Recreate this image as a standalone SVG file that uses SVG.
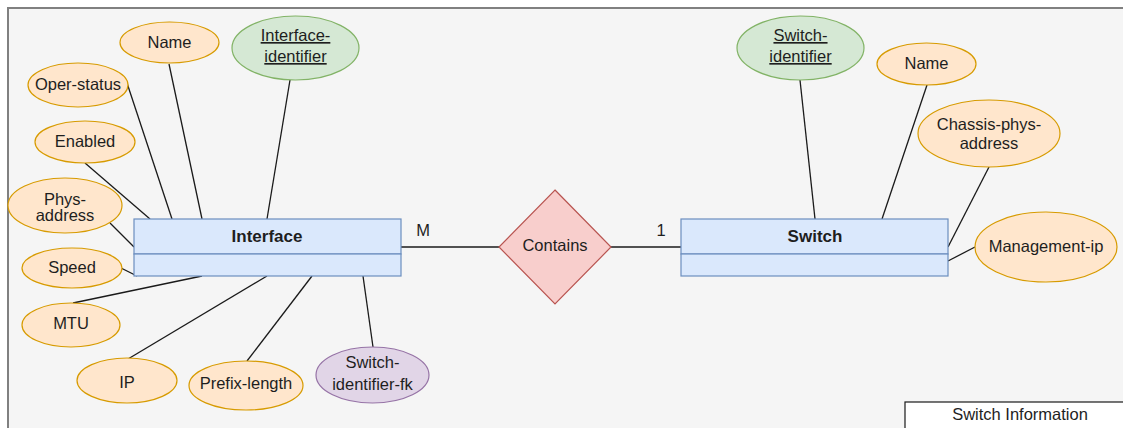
<svg xmlns="http://www.w3.org/2000/svg" width="1123" height="428" viewBox="0 0 1123 428">
  <style>
    text { font-family: "Liberation Sans", Arial, sans-serif; font-size: 16.5px; fill: #1e1e1e; text-anchor: middle; }
    .attr { fill: #ffe6cc; stroke: #d79b00; stroke-width: 1.2; }
    .key { fill: #d5e8d4; stroke: #82b366; stroke-width: 1.2; }
    .fk { fill: #e1d5e7; stroke: #9673a6; stroke-width: 1.2; }
    .entity { fill: #dae8fc; stroke: #6c8ebf; stroke-width: 1.2; }
    .rel { fill: #f8cecc; stroke: #b85450; stroke-width: 1.2; }
    .u { text-decoration: underline; }
    .title { font-weight: bold; font-size: 17px; }
    #connectors line { stroke: #1a1a1a; stroke-width: 1.3; }
  </style>

  <!-- page frame -->
  <rect x="0" y="0" width="1123" height="428" fill="#ffffff"/>
  <rect x="8" y="8" width="1120" height="425" fill="#f5f5f5" stroke="#808080" stroke-width="2"/>

  <!-- connectors -->
  <g id="connectors">
    <line x1="169" y1="64" x2="202" y2="219"/>
    <line x1="290" y1="80" x2="267" y2="219"/>
    <line x1="127" y1="83" x2="172" y2="219"/>
    <line x1="85" y1="163" x2="150" y2="219"/>
    <line x1="110" y1="223" x2="134" y2="247"/>
    <line x1="121" y1="268" x2="137" y2="276"/>
    <line x1="73" y1="303" x2="202" y2="276"/>
    <line x1="128" y1="359" x2="267" y2="276"/>
    <line x1="247" y1="361" x2="312" y2="276"/>
    <line x1="373" y1="347" x2="363" y2="276"/>
    <line x1="401" y1="247" x2="499" y2="247"/>
    <line x1="611" y1="247" x2="681" y2="247"/>
    <line x1="800" y1="80" x2="815" y2="219"/>
    <line x1="927" y1="85" x2="882" y2="219"/>
    <line x1="989" y1="167" x2="948" y2="247"/>
    <line x1="975" y1="247" x2="948" y2="261"/>
  </g>

  <!-- Interface entity -->
  <g id="interface">
    <rect class="entity" x="134" y="219" width="267" height="35"/>
    <rect class="entity" x="134" y="254" width="267" height="22"/>
    <text class="title" x="267" y="242">Interface</text>
  </g>

  <!-- Switch entity -->
  <g id="switch">
    <rect class="entity" x="681" y="219" width="267" height="35"/>
    <rect class="entity" x="681" y="254" width="267" height="22"/>
    <text class="title" x="815" y="242">Switch</text>
  </g>

  <!-- relationship -->
  <g id="contains">
    <polygon class="rel" points="555,190 611,247 555,304 499,247"/>
    <text x="555" y="251">Contains</text>
  </g>
  <g id="card-m"><text x="423" y="236">M</text></g>
  <g id="card-1"><text x="661" y="236">1</text></g>

  <!-- Interface attributes -->
  <g id="if-name">
    <ellipse class="attr" cx="169.5" cy="42.5" rx="49.5" ry="20.5"/>
    <text x="169.5" y="48">Name</text>
  </g>
  <g id="if-identifier">
    <ellipse class="key" cx="295.5" cy="48" rx="63.5" ry="32"/>
    <text class="u" x="295.5" y="41">Interface-</text>
    <text class="u" x="295.5" y="62">identifier</text>
  </g>
  <g id="if-oper-status">
    <ellipse class="attr" cx="78" cy="85" rx="50" ry="22"/>
    <text x="78" y="90">Oper-status</text>
  </g>
  <g id="if-enabled">
    <ellipse class="attr" cx="85" cy="142" rx="50" ry="21"/>
    <text x="85" y="147">Enabled</text>
  </g>
  <g id="if-phys-address">
    <ellipse class="attr" cx="65" cy="205.5" rx="57" ry="27.5"/>
    <text x="65" y="205">Phys-</text>
    <text x="65" y="221">address</text>
  </g>
  <g id="if-speed">
    <ellipse class="attr" cx="72" cy="268" rx="50" ry="20"/>
    <text x="72" y="273">Speed</text>
  </g>
  <g id="if-mtu">
    <ellipse class="attr" cx="71" cy="325" rx="49" ry="22"/>
    <text x="71" y="329">MTU</text>
  </g>
  <g id="if-ip">
    <ellipse class="attr" cx="127" cy="380.5" rx="50" ry="22.5"/>
    <text x="127" y="388">IP</text>
  </g>
  <g id="if-prefix-length">
    <ellipse class="attr" cx="246" cy="385.5" rx="57" ry="24.5"/>
    <text x="246" y="389">Prefix-length</text>
  </g>
  <g id="if-switch-identifier-fk">
    <ellipse class="fk" cx="372.5" cy="375" rx="56.5" ry="28"/>
    <text x="372.5" y="368">Switch-</text>
    <text x="372.5" y="390">identifier-fk</text>
  </g>

  <!-- Switch attributes -->
  <g id="sw-identifier">
    <ellipse class="key" cx="800.5" cy="48" rx="63.5" ry="32"/>
    <text class="u" x="800.5" y="41">Switch-</text>
    <text class="u" x="800.5" y="62">identifier</text>
  </g>
  <g id="sw-name">
    <ellipse class="attr" cx="926.5" cy="64" rx="49.5" ry="21"/>
    <text x="926.5" y="69">Name</text>
  </g>
  <g id="sw-chassis-phys-address">
    <ellipse class="attr" cx="989" cy="133.5" rx="71" ry="33.5"/>
    <text x="989" y="130">Chassis-phys-</text>
    <text x="989" y="149">address</text>
  </g>
  <g id="sw-management-ip">
    <ellipse class="attr" cx="1046" cy="247" rx="71" ry="35"/>
    <text x="1046" y="252">Management-ip</text>
  </g>

  <!-- caption box -->
  <g id="switch-information">
    <rect x="905" y="402" width="230" height="40" fill="#ffffff" stroke="#1a1a1a" stroke-width="1.2"/>
    <text x="1020" y="420">Switch Information</text>
  </g>
</svg>
